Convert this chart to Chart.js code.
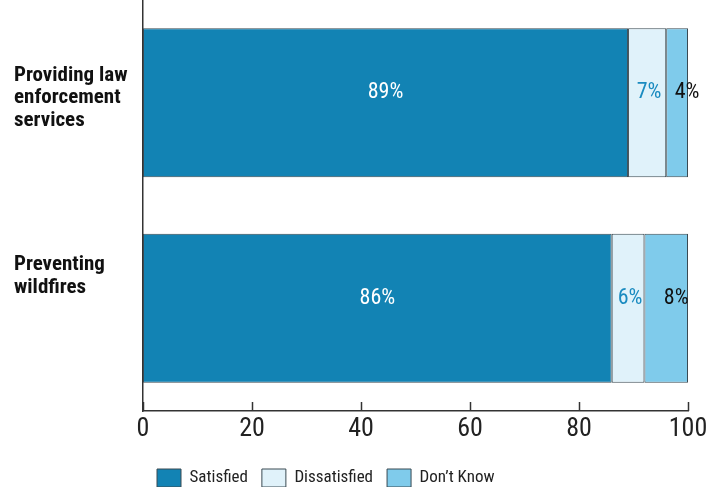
<!DOCTYPE html>
<html>
<head>
<meta charset="utf-8">
<script src="https://cdn.jsdelivr.net/npm/chart.js@4/dist/chart.umd.min.js"></script>
<style>
  html, body { margin: 0; padding: 0; background: #fff; }
  #wrap { width: 717px; height: 487px; }
</style>
</head>
<body>
<div id="wrap"><canvas id="myChart"></canvas></div>
<script>
// survey items, one bar each
var categories = [
  ['Providing law', 'enforcement', 'services'],
  ['Preventing', 'wildfires'],
]
var satisfied = [89, 86]
var dissatisfied = [7, 6]
var dontKnow = [4, 8]
var xTicks = [0, 20, 40, 60, 80, 100]

var FONT = "'Roboto Condensed', 'Liberation Sans Narrow', 'DejaVu Sans Condensed', 'Arial Narrow', Roboto, sans-serif"

// percent labels inside each segment
const segmentLabels = {
  id: 'segmentLabels',
  afterDatasetsDraw(chart) {
    const ctx = chart.ctx
    ctx.save()
    ctx.font = '22px ' + FONT
    ctx.textAlign = 'center'
    ctx.textBaseline = 'middle'
    chart.data.datasets.forEach((ds, i) => {
      const meta = chart.getDatasetMeta(i)
      meta.data.forEach((bar, j) => {
        const cx = (bar.x + bar.base) / 2 + (ds.labelShift || 0)
        ctx.fillStyle = ds.labelColor
        ctx.fillText(ds.data[j] + '%', cx, bar.y - 10)
      })
    })
    ctx.restore()
  },
}

// category names on the left, left aligned, drawn against the y scale
const categoryLabels = {
  id: 'categoryLabels',
  afterDraw(chart, args, opts) {
    const y = chart.scales.y
    const ctx = chart.ctx
    ctx.save()
    ctx.font = 'bold 21px ' + FONT
    ctx.fillStyle = '#111'
    ctx.textAlign = 'left'
    ctx.textBaseline = 'middle'
    categories.forEach((lines, i) => {
      const mid = y.getPixelForTick(i) + opts.nudge[i]
      const top = mid - (lines.length - 1) * opts.lineHeight / 2
      lines.forEach((t, k) => ctx.fillText(t, opts.left, top + k * opts.lineHeight))
    })
    ctx.restore()
  },
}

// short tick marks pointing up from the x axis
const upTicks = {
  id: 'upTicks',
  afterDraw(chart) {
    const x = chart.scales.x
    const ctx = chart.ctx
    ctx.save()
    ctx.strokeStyle = '#333'
    ctx.lineWidth = 1.5
    xTicks.forEach(v => {
      const px = Math.round(x.getPixelForValue(v)) + 0.5
      ctx.beginPath()
      ctx.moveTo(px, x.top)
      ctx.lineTo(px, x.top - 9)
      ctx.stroke()
    })
    ctx.restore()
  },
}

function generateGraph() {
  const datasets = [
    { label: 'Satisfied', data: satisfied, backgroundColor: '#1283b4', labelColor: '#ffffff', labelShift: 0 },
    { label: 'Dissatisfied', data: dissatisfied, backgroundColor: '#e0f2fa', labelColor: '#1a8bc0', labelShift: 2 },
    { label: 'Don\u2019t Know', data: dontKnow, backgroundColor: '#7fcbeb', labelColor: '#111111', labelShift: 10 },
  ].map(d => Object.assign(d, {
    borderColor: '#3a4a52',
    borderWidth: 1,
    borderSkipped: false,
    barPercentage: 0.724,
    categoryPercentage: 1,
  }))

  const ctx = document.getElementById('myChart').getContext('2d')
  const myChart = new Chart(ctx, {
    type: 'bar',
    data: { labels: categories, datasets: datasets },
    plugins: [segmentLabels, categoryLabels, upTicks],
    options: {
      indexAxis: 'y',
      responsive: true,
      maintainAspectRatio: false,
      animation: false,
      layout: { padding: { left: 0, right: 29, top: 0, bottom: -10 } },
      scales: {
        x: {
          stacked: true,
          min: 0,
          max: 100,
          afterBuildTicks: axis => { axis.ticks = xTicks.map(v => ({ value: v })) },
          afterFit: axis => { axis.height = 44 },
          grid: { display: false, drawTicks: false },
          border: { display: true, color: '#333', width: 1.5 },
          ticks: { padding: 3, color: '#222', font: { family: FONT, size: 26 } },
        },
        y: {
          stacked: true,
          afterFit: axis => { axis.width = 143 },
          grid: { display: false, drawTicks: false },
          border: { display: true, color: '#333', width: 1.5 },
          ticks: { display: false },
        },
      },
      plugins: {
        categoryLabels: { left: 14, lineHeight: 22.5, nudge: [-5, -32] },
        legend: {
          position: 'bottom',
          align: 'start',
          fullSize: false,
          labels: {
            boxWidth: 24,
            boxHeight: 18,
            padding: 14,
            color: '#222',
            font: { family: FONT, size: 17 },
          },
        },
        tooltip: { enabled: false },
      },
    },
  })
}

generateGraph()
</script>
</body>
</html>
